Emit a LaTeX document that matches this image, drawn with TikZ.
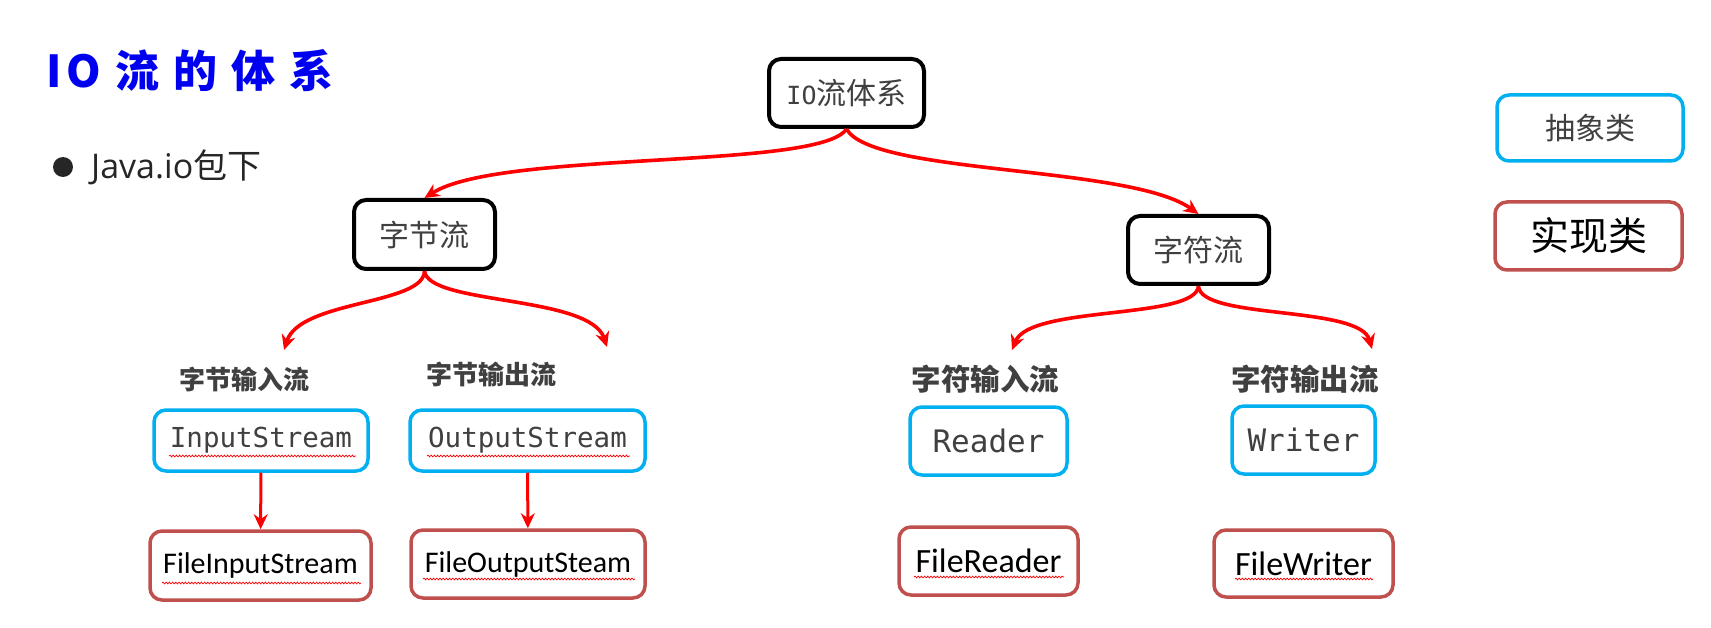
\documentclass[tikz,border=0pt]{standalone}
\usepackage{fontspec}
\newfontfamily\cjk{Noto Sans CJK SC}
\newfontfamily\mono{DejaVu Sans Mono}
\newfontfamily\cali{Carlito}
\newfontfamily\osans{Open Sans}
\usetikzlibrary{arrows.meta,decorations.pathmorphing}
\definecolor{absblue}{HTML}{00B0F0}
\definecolor{implred}{HTML}{C0504D}
\definecolor{arrred}{HTML}{FF0000}
\definecolor{txtgray}{HTML}{404040}
\definecolor{titleblue}{HTML}{0000F0}
\definecolor{bulletc}{HTML}{262626}
\newcommand\tgap{\hspace{14pt}}
\tikzset{
  catbox/.style={draw=black, line width=4pt, rounded corners=12pt, inner sep=0pt,
    text=txtgray, font=\cjk\fontsize{30}{34}\selectfont},
  absbox/.style={draw=absblue, line width=3.5pt, rounded corners=12pt, inner sep=0pt,
    text=txtgray},
  implbox/.style={draw=implred, line width=3.5pt, rounded corners=12pt, inner sep=0pt,
    text=black},
  lbl/.style={text=txtgray, inner sep=0pt},
  redarrow/.style={draw=arrred, line width=3.6pt, -{Stealth[length=15pt,width=14pt]}},
  squig/.style={draw=arrred, line width=0.7pt, decorate,
    decoration={snake, amplitude=0.9pt, segment length=3.2pt}},
}
\begin{document}
\begin{tikzpicture}[x=1pt,y=-1pt]
\useasboundingbox (0,0) rectangle (1711,628);
\fill[white] (0,0) rectangle (1711,628);

% title and bullet
\node[anchor=west, inner sep=0pt, text=titleblue, font=\cjk\bfseries\fontsize{44}{50}\selectfont] (title) at (46,71) {I\hspace{5pt}O\tgap 流\tgap 的\tgap 体\tgap 系};
\node[circle, fill=bulletc, minimum size=20pt, inner sep=0pt] (bul) at (63,167) {};
\node[anchor=west, inner sep=0pt, text=bulletc, font=\osans\fontsize{34}{38}\selectfont] (pkg) at (91,167) {Java.io{\cjk 包下}};

% category boxes
\node[catbox, minimum width=155pt, minimum height=68pt] (io) at (846.5,93) {{\mono\fontsize{25}{30}\selectfont IO}流体系};
\node[catbox, minimum width=141pt, minimum height=69pt] (zj) at (424.5,234.5) {字节流};
\node[catbox, minimum width=141pt, minimum height=68pt] (zf) at (1198.5,250) {字符流};

% legend
\node[absbox, minimum width=186pt, minimum height=66pt, font=\cjk\fontsize{30}{34}\selectfont] (abs) at (1590,128) {抽象类};
\node[implbox, minimum width=187pt, minimum height=68pt, font=\cjk\fontsize{39}{44}\selectfont] (impl) at (1588.5,236) {实现类};

% labels
\node[lbl, font=\cjk\bfseries\fontsize{26}{30}\selectfont] (zjin) at (244,379) {字节输入流};
\node[lbl, font=\cjk\bfseries\fontsize{26}{30}\selectfont] (zjout) at (491,375) {字节输出流};
\node[lbl, font=\cjk\bfseries\fontsize{29.5}{34}\selectfont] (zfin) at (985.5,379) {字符输入流};
\node[lbl, font=\cjk\bfseries\fontsize{29.5}{34}\selectfont] (zfout) at (1305,379) {字符输出流};

% abstract classes
\node[absbox, minimum width=214pt, minimum height=61pt, font=\mono\fontsize{27.5}{32}\selectfont] (ins) at (261,440.5) {InputStream};
\node[absbox, minimum width=235pt, minimum height=61pt, font=\mono\fontsize{27.5}{32}\selectfont] (outs) at (527.5,440.5) {OutputStream};
\node[absbox, minimum width=157pt, minimum height=68pt, font=\mono\fontsize{31}{36}\selectfont] (rd) at (988.5,441) {Reader};
\node[absbox, minimum width=143pt, minimum height=68pt, font=\mono\fontsize{31}{36}\selectfont] (wr) at (1303.5,440) {Writer};

% implementation classes
\node[implbox, minimum width=221pt, minimum height=69pt, font=\cali\fontsize{30}{34}\selectfont] (fins) at (260.5,565.5) {FileInputStream};
\node[implbox, minimum width=234pt, minimum height=68pt, font=\cali\fontsize{30}{34}\selectfont] (fouts) at (528,564) {FileOutputSteam};
\node[implbox, minimum width=179pt, minimum height=68pt, font=\cali\fontsize{34}{38}\selectfont] (frd) at (988.5,561) {FileReader};
\node[implbox, minimum width=179pt, minimum height=67pt, font=\cali\fontsize{34}{38}\selectfont] (fwr) at (1303.5,563.5) {FileWriter};

% arrow tips (free ends)
\coordinate (t1) at (284,350);
\coordinate (t2) at (607,347);
\coordinate (t3) at (1012,350);
\coordinate (t4) at (1372,349);

% curved arrows
\draw[redarrow] (io.south) .. controls (820,170) and (500,150) .. (zj.north);
\draw[redarrow] (io.south) .. controls (872,175) and (1130,165) .. (zf.north);
\draw[redarrow] (zj.south) .. controls (424,305) and (300,300) .. (t1);
\draw[redarrow] (zj.south) .. controls (428,305) and (590,295) .. (t2);
\draw[redarrow] (zf.south) .. controls (1196,320) and (1030,305) .. (t3);
\draw[redarrow] (zf.south) .. controls (1200,320) and (1360,305) .. (t4);

% straight arrows
\draw[redarrow, line width=3pt] (ins) -- (fins);
\draw[redarrow, line width=3pt] (outs) -- (fouts);

% spell-check squiggles
\draw[squig] (169,456) -- (356,456);
\draw[squig] (427,456) -- (630,456);
\draw[squig] (162,583) -- (361,583);
\draw[squig] (423,579) -- (635,579);
\draw[squig] (914,577) -- (1064,577);
\draw[squig] (1235,579) -- (1373,579);
\end{tikzpicture}
\end{document}
